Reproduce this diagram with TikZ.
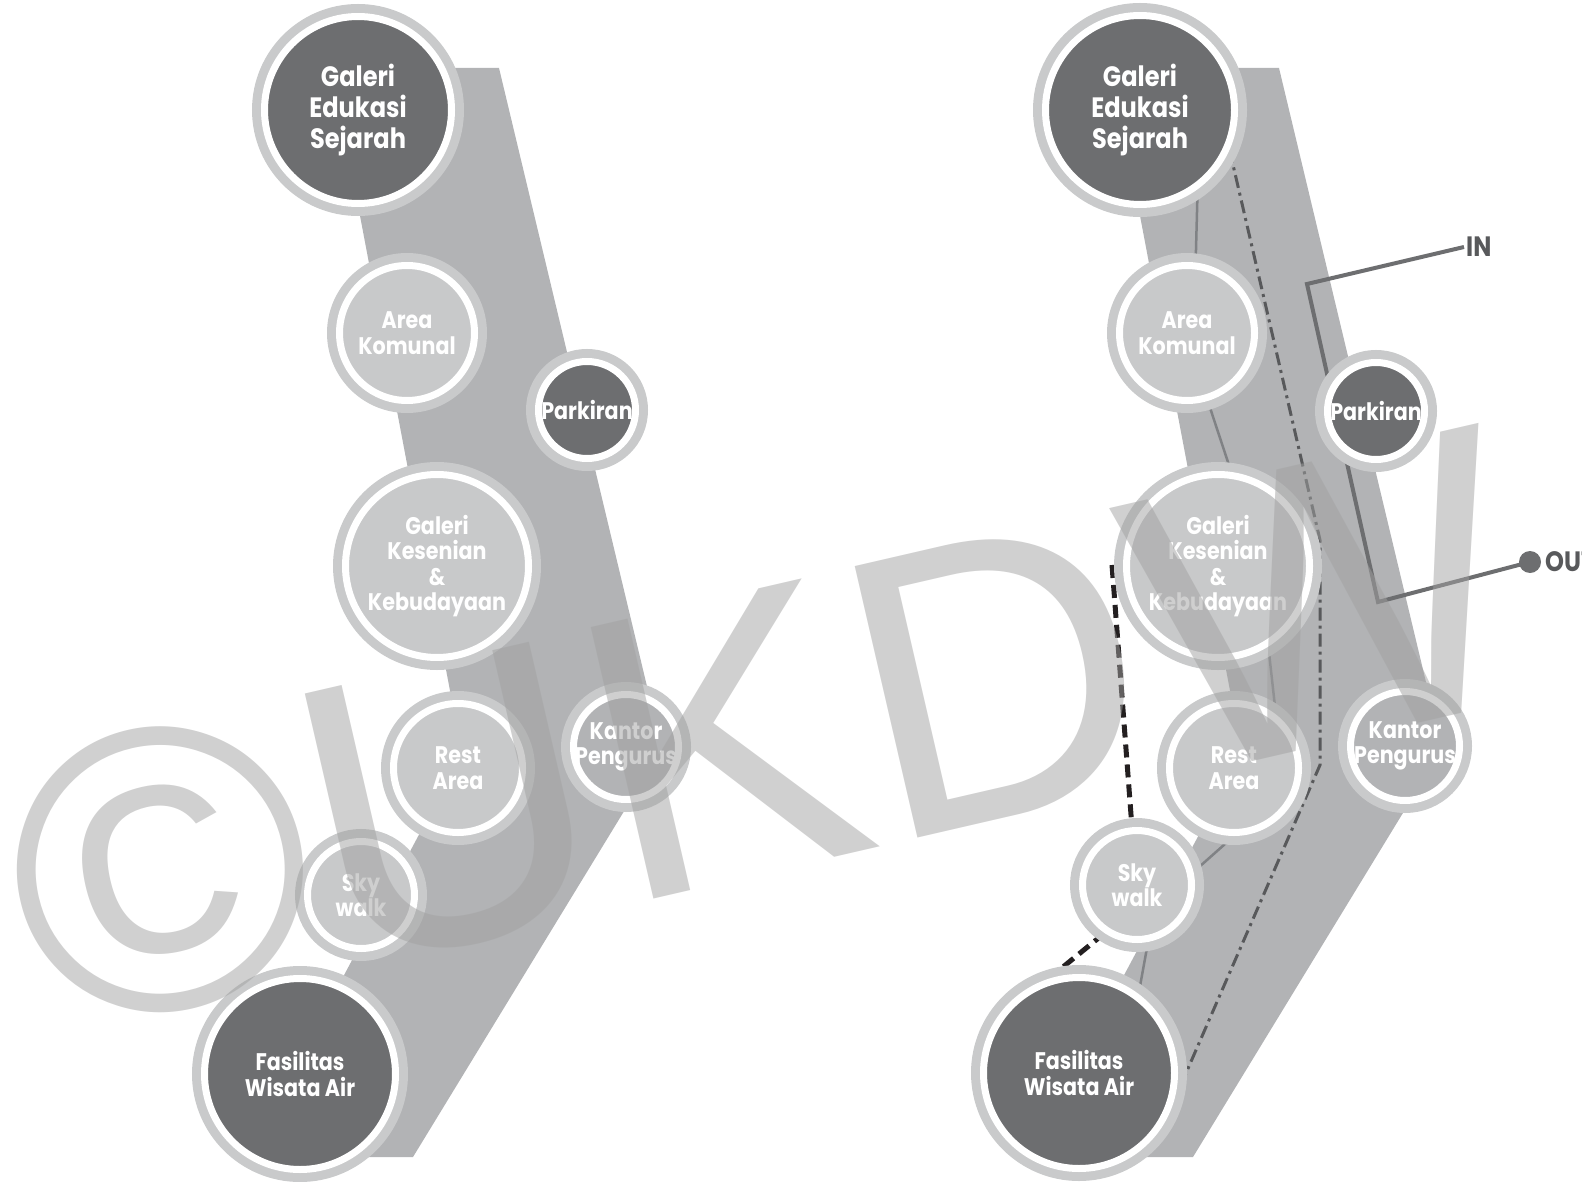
\documentclass[tikz,border=0pt]{standalone}
\usepackage{fontspec}
\usetikzlibrary{calc}
\newfontfamily\lblfont{Poppins}[FakeStretch=0.86]
\newfontfamily\markfont{Liberation Sans}
\definecolor{bandgray}{HTML}{B2B3B5}
\definecolor{ringgray}{HTML}{C9CACB}
\definecolor{lightfill}{HTML}{C8C9CA}
\definecolor{darkfill}{HTML}{6D6E70}
\definecolor{linkgray}{HTML}{808285}
\definecolor{pathdark}{HTML}{58595B}
\definecolor{inkblack}{HTML}{231F20}
\definecolor{markgray}{HTML}{A1A1A1}

\pgfdeclarelayer{bandlayer}
\pgfdeclarelayer{linklayer}
\pgfsetlayers{bandlayer,linklayer,main}

\tikzset{
  spot/.style={circle, inner sep=-12pt, draw=white, line width=7pt, text=white, align=center,
    font=\lblfont\bfseries\fontsize{24}{25.5}\selectfont,
    preaction={draw=ringgray, line width=25pt}},
  darkspot/.style={spot, fill=darkfill},
  lightspot/.style={spot, fill=lightfill},
  midspot/.style={spot, fill=bandgray},
  bigtext/.style={font=\lblfont\bfseries\fontsize{28}{31}\selectfont},
  band/.style={fill=bandgray},
  link/.style={draw=linkgray, line width=2.5pt},
  walk/.style={draw=pathdark, line width=3pt, dash pattern=on 13pt off 5pt on 3pt off 5pt},
  skydash/.style={draw=inkblack, line width=5pt, dash pattern=on 13pt off 7pt},
  route/.style={draw=darkfill, line width=4pt},
  tag/.style={text=pathdark, inner sep=2pt, font=\lblfont\bfseries\fontsize{28}{28}\selectfont},
  wmark/.style={text=markgray, text opacity=0.5, rotate=13, inner sep=0pt,
    font=\markfont\fontsize{405}{405}\selectfont}
}

\begin{document}
\begin{tikzpicture}[x=1pt, y=-1pt]
    \useasboundingbox (0,0) rectangle (1582,1182);

    % left scheme
    \node[darkspot, bigtext, minimum size=187pt] (ge1) at (358,110) {Galeri\\Edukasi\\Sejarah};
    \node[lightspot, minimum size=135pt] (ak1) at (407,333) {Area\\Komunal};
    \node[darkspot, minimum size=97pt] (pk1) at (587,410) {Parkiran};
    \node[lightspot, minimum size=183pt] (gk1) at (437,566) {Galeri\\Kesenian\\\&\\Kebudayaan};
    \node[lightspot, minimum size=129pt] (ra1) at (458,768) {Rest\\Area};
    \node[midspot, minimum size=105pt] (kp1) at (626,747) {Kantor\\Pengurus};
    \node[lightspot, minimum size=107pt] (sw1) at (361,895) {Sky\\walk};
    \node[darkspot, minimum size=191pt] (fw1) at (300,1074) {Fasilitas\\Wisata Air};

    % right scheme
    \node[darkspot, bigtext, minimum size=189pt] (ge2) at (1140,110) {Galeri\\Edukasi\\Sejarah};
    \node[lightspot, minimum size=135pt] (ak2) at (1187,333) {Area\\Komunal};
    \node[darkspot, minimum size=97pt] (pk2) at (1376,411) {Parkiran};
    \node[lightspot, minimum size=183pt] (gk2) at (1218,566) {Galeri\\Kesenian\\\&\\Kebudayaan};
    \node[lightspot, minimum size=129pt] (ra2) at (1234,768) {Rest\\Area};
    \node[midspot, minimum size=109pt] (kp2) at (1405,746) {Kantor\\Pengurus};
    \node[lightspot, minimum size=109pt] (sw2) at (1137,885) {Sky\\walk};
    \node[darkspot, minimum size=191pt] (fw2) at (1079,1073) {Fasilitas\\Wisata Air};

    \node[tag, anchor=west] (intag) at (1464,247) {IN};
    \fill[darkfill] (1530,562) circle (11pt);
    \coordinate (outdot) at (1530,562);
    \node[tag, anchor=west] (outtag) at (1543,562) {OUT};

    \begin{pgfonlayer}{bandlayer}
        \fill[band] (332,68) -- (499,68) -- (662,749) -- (413,1157) -- (247,1157) -- (462,754) -- cycle;
        \fill[band] (1112,68) -- (1279,68) -- (1442,749) -- (1193,1157) -- (1027,1157) -- (1242,754) -- cycle;
    \end{pgfonlayer}

    \begin{pgfonlayer}{linklayer}
        \draw[link] (ge2.-54) -- (ak2.83);
        \draw[link] (ak2.-73) -- (gk2.82);
        \draw[link] (gk2.-58) -- (ra2.52);
        \draw[link] (ra2.-90) -- (sw2.13);
        \draw[link] (sw2.-79) -- (fw2.53);

        \coordinate (bend1) at (1320,540);
        \coordinate (bend2) at (1320,765);
        \draw[walk] (ge2.-24) -- (bend1) -- (bend2) -- (fw2.-16);

        \coordinate (skytop) at (1112,565);
        \draw[skydash] (skytop) -- (sw2.95);
        \draw[skydash] (sw2.236) -- (fw2.108);

        \coordinate (turn1) at (1307,284);
        \coordinate (turn2) at (1378,602);
        \draw[route] (intag.west) -- (turn1) -- (turn2) -- (outdot);
    \end{pgfonlayer}

    % watermark
    \node[wmark] (stamp) at (763,731) {©UKDW};
\end{tikzpicture}
\end{document}
